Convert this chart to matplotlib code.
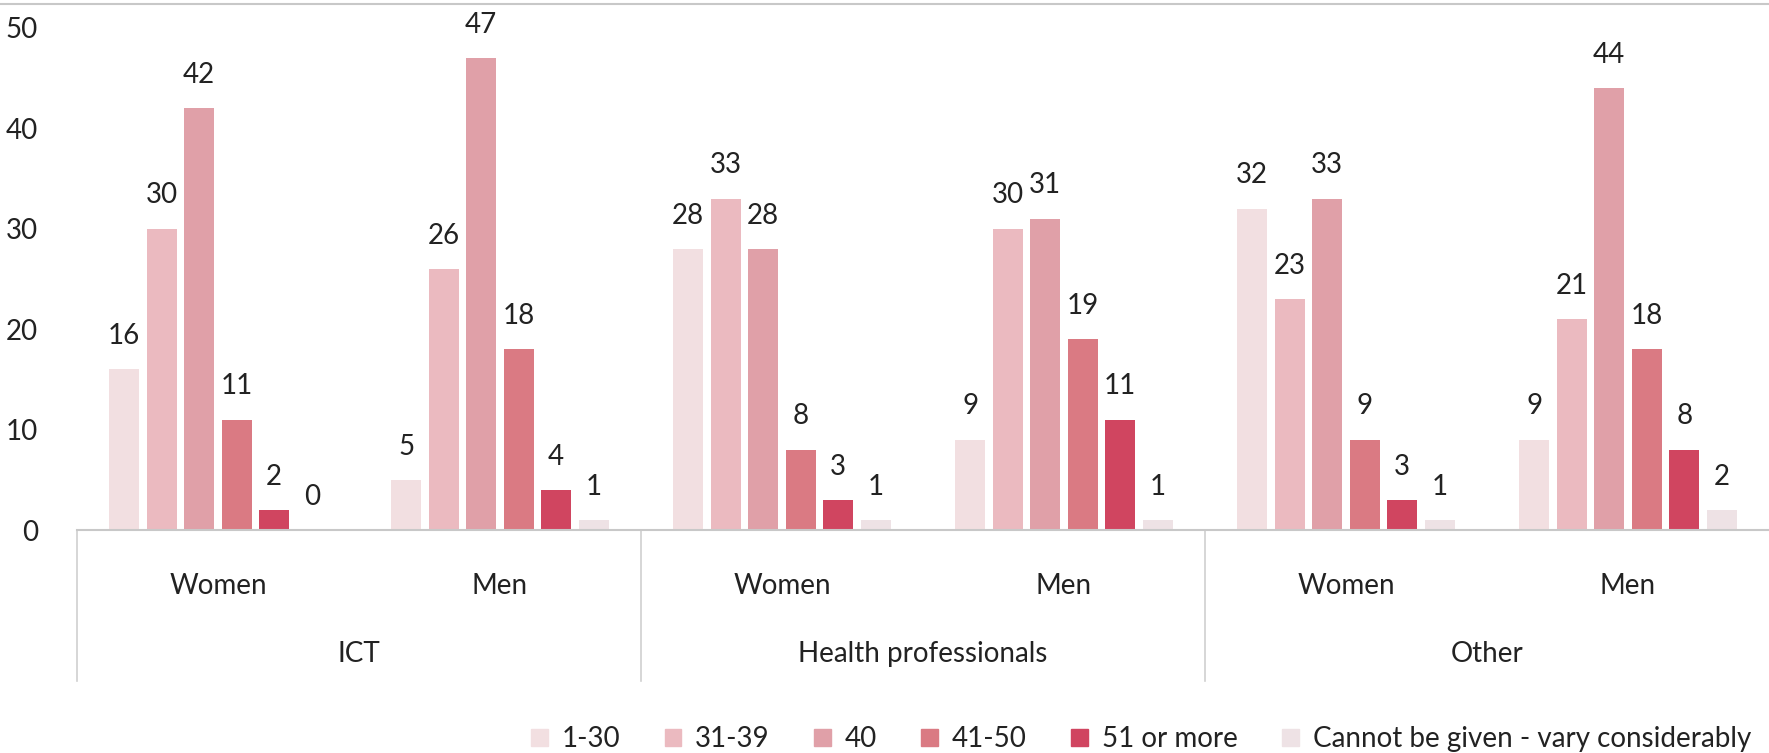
import matplotlib
matplotlib.use("Agg")
import matplotlib.pyplot as plt
from matplotlib.lines import Line2D
import numpy as np

plt.rcParams['font.family'] = ['Lato', 'DejaVu Sans']

# Weekly working hours distribution (%) by occupation group and gender
occupations = ["ICT", "Health professionals", "Other"]
genders = ["Women", "Men"]
hour_bands = ["1-30", "31-39", "40", "41-50", "51 or more",
              "Cannot be given - vary considerably"]

band_1_30 = [16, 5, 28, 9, 32, 9]
band_31_39 = [30, 26, 33, 30, 23, 21]
band_40 = [42, 47, 28, 31, 33, 44]
band_41_50 = [11, 18, 8, 19, 9, 18]
band_51_plus = [2, 4, 3, 11, 3, 8]
band_varies = [0, 1, 1, 1, 1, 2]

series = [band_1_30, band_31_39, band_40, band_41_50, band_51_plus, band_varies]
colors = ["#f2dfe1", "#ebbac0", "#e0a0a8", "#da7a83", "#d04560", "#eee2e5"]

fig = plt.figure(figsize=(17.69, 7.53), dpi=100)
ax = fig.add_axes([0.0435, 0.296, 0.9565, 0.667])

n_sub = len(occupations) * len(genders)
x = np.arange(n_sub)
step = 0.133
width = 0.105

for i, (vals, col) in enumerate(zip(series, colors)):
    pos = x + (i - 2.5) * step
    bars = ax.bar(pos, vals, width=width, color=col, zorder=2)
    for b, v in zip(bars, vals):
        ax.annotate(f"{v}", (b.get_x() + b.get_width() / 2, v),
                    xytext=(0, 24), textcoords="offset points",
                    ha="center", va="center", fontsize=20, color="#222222",
                    annotation_clip=False)

ax.set_xlim(-0.5, n_sub - 0.5)
ax.set_ylim(0, 50)
ax.set_yticks(range(0, 51, 10))
ax.tick_params(axis="y", length=0, pad=28, labelsize=20, labelcolor="#222222")
ax.set_xticks([])
for s in ["left", "right", "top"]:
    ax.spines[s].set_visible(False)
ax.spines["bottom"].set_color("#c8c8c8")
ax.spines["bottom"].set_linewidth(1.5)

# Gender labels under each subgroup, occupation labels under each pair
for k in range(n_sub):
    ax.annotate(genders[k % 2], (x[k], 0), xytext=(0, -40),
                textcoords="offset points", ha="center", va="center",
                fontsize=20, color="#222222", annotation_clip=False)
for j, occ in enumerate(occupations):
    ax.annotate(occ, (2 * j + 0.5, 0), xytext=(0, -89),
                textcoords="offset points", ha="center", va="center",
                fontsize=20, color="#222222", annotation_clip=False)
    ax.plot([2 * j - 0.5, 2 * j - 0.5], [0, -15], color="#d0d0d0",
            lw=1.2, clip_on=False, zorder=1)

# Thin frame line along the top edge
fig.add_artist(Line2D([0, 1], [1 - 4 / 753, 1 - 4 / 753],
                      transform=fig.transFigure, color="#c8c8c8", lw=1.5))

handles = [plt.Rectangle((0, 0), 1, 1, color=c) for c in colors]
fig.legend(handles, hour_bands, loc="center", bbox_to_anchor=(0.645, 0.018),
           ncol=6, frameon=False, fontsize=20, handlelength=0.6,
           handleheight=0.6, handletextpad=0.5, columnspacing=1.6,
           labelcolor="#222222")

fig.savefig("out.png", dpi=100, facecolor="white")
